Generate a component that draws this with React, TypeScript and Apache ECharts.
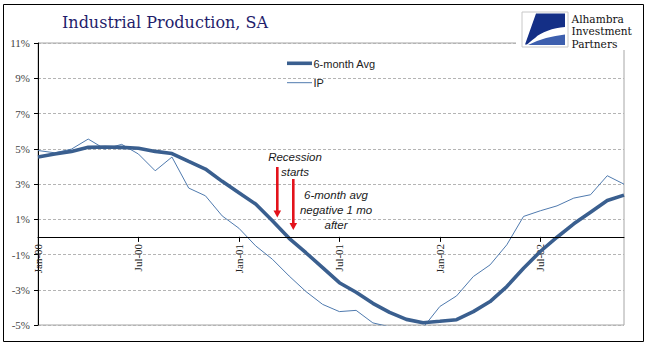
import React, { useEffect, useRef } from "react";
import * as echarts from "echarts";

const months: string[] = [
  "Jan-00", "Feb-00", "Mar-00", "Apr-00", "May-00", "Jun-00", "Jul-00", "Aug-00", "Sep-00", "Oct-00", "Nov-00", "Dec-00",
  "Jan-01", "Feb-01", "Mar-01", "Apr-01", "May-01", "Jun-01", "Jul-01", "Aug-01", "Sep-01", "Oct-01", "Nov-01", "Dec-01",
  "Jan-02", "Feb-02", "Mar-02", "Apr-02", "May-02", "Jun-02", "Jul-02", "Aug-02", "Sep-02", "Oct-02", "Nov-02", "Dec-02",
];

const avg6: number[] = [
  4.53, 4.7, 4.85, 5.08, 5.1, 5.08, 5.03, 4.85, 4.73, 4.28, 3.85, 3.15,
  2.5, 1.86, 0.92, -0.08, -0.9, -1.74, -2.6, -3.14, -3.77, -4.28, -4.68, -4.87,
  -4.79, -4.7, -4.24, -3.67, -2.82, -1.78, -0.83, -0.02, 0.74, 1.4, 2.06, 2.37,
];

const ip: number[] = [
  4.9, 4.77, 4.98, 5.55, 4.98, 5.25, 4.7, 3.75, 4.53, 2.77, 2.33, 1.19,
  0.49, -0.51, -1.27, -2.22, -3.1, -3.83, -4.24, -4.17, -4.88, -5.1, -5.3, -5.15,
  -3.95, -3.35, -2.25, -1.59, -0.45, 1.16, 1.48, 1.76, 2.2, 2.39, 3.47, 2.99,
];

const yTicks: number[] = [-5, -3, -1, 1, 3, 5, 7, 9, 11];
const yMin = -5;
const yMax = 11;

const seriesNames = ["6-month Avg", "IP"];
const titleText = "Industrial Production, SA";
const logoLines = ["Alhambra", "Investment", "Partners"];
const noteRecession = ["Recession", "starts"];
const noteAvg = ["6-month avg", "negative 1 mo", "after"];

echarts.graphic.registerShape(
  "logoBlade",
  echarts.graphic.extendPath("M536 13.5 L565 13.5 L565 27 C553 28 541 32 535 38 C531 41 529 43 527 44.5 L525 44.5 Z", {})
);
echarts.graphic.registerShape(
  "logoSwoosh",
  echarts.graphic.extendPath("M565 34.5 L565 45 L528 45 C540 39 552 36 565 34.5 Z", {})
);

export default function App() {
  const ref = useRef<HTMLDivElement>(null);
  useEffect(() => {
    if (!ref.current) return;
    const chart = echarts.init(ref.current, null, { renderer: "svg" });
    const serif = "'Liberation Serif', 'Times New Roman', serif";
    const sans = "'Liberation Sans', Arial, sans-serif";
    const red = "#e3121b";
    const thick = "#3a5f8f";
    const thin = "#4f7aae";
    const H = 358;
    const gTop = 43;
    const gBottom = 33;
    // zero line position from the main grid's value scale
    const zeroFromTop = gTop + ((yMax - 0) / (yMax - yMin)) * (H - gTop - gBottom);
    const arrow = (x: number, y0: number, y1: number) => [
      { type: "line", shape: { x1: x, y1: y0, x2: x, y2: y1 - 6 }, style: { stroke: red, lineWidth: 2.6 }, z: 50 },
      { type: "polygon", shape: { points: [[x - 3.8, y1 - 7], [x + 3.8, y1 - 7], [x, y1]] }, style: { fill: red }, z: 50 },
    ];
    chart.setOption({
      animation: false,
      grid: [
        { left: 38, right: 46, top: gTop, bottom: gBottom, show: true, borderColor: "#a6a6a6", borderWidth: 1 },
        { left: 38, right: 46, top: gTop, bottom: H - zeroFromTop, show: false },
      ],
      xAxis: [
        {
          type: "category",
          gridIndex: 0,
          data: months,
          boundaryGap: false,
          axisLine: { onZero: true, lineStyle: { color: "#000", width: 1 } },
          axisTick: { show: false },
          axisLabel: { show: false },
          splitLine: { show: false },
          z: 4,
        },
        {
          type: "category",
          gridIndex: 1,
          data: months,
          boundaryGap: false,
          axisLine: { show: false },
          axisTick: { show: true, interval: 5, length: 5, lineStyle: { color: "#000" } },
          axisLabel: { interval: 5, rotate: 90, margin: 7, fontFamily: serif, fontSize: 11, color: "#222" },
          splitLine: { show: false },
        },
      ],
      yAxis: [
        {
          type: "value",
          gridIndex: 0,
          min: yMin,
          max: yMax,
          interval: 1,
          axisLine: { show: true, onZero: false, lineStyle: { color: "#000", width: 1 } },
          axisTick: { show: true, length: 4, customValues: yTicks, lineStyle: { color: "#000" } },
          axisLabel: {
            customValues: yTicks,
            margin: 8,
            fontFamily: serif,
            fontSize: 11,
            color: "#444",
            formatter: (v: number) => (Math.abs(v) % 2 === 1 ? v + "%" : ""),
          },
          splitLine: { show: true, lineStyle: { color: "#b4b4b4", type: [3, 2], width: 1 } },
        },
        { type: "value", gridIndex: 1, min: 0, max: 1, show: false },
      ],
      series: [
        {
          name: seriesNames[0],
          type: "line",
          data: avg6,
          symbol: "none",
          lineStyle: { color: thick, width: 3.6 },
          itemStyle: { color: thick },
          z: 3,
        },
        {
          name: seriesNames[1],
          type: "line",
          data: ip,
          symbol: "none",
          lineStyle: { color: thin, width: 1 },
          itemStyle: { color: thin },
          z: 2,
        },
      ],
      graphic: [
        { type: "rect", shape: { x: 3.5, y: 4.5, width: 640, height: 337 }, style: { fill: "none", stroke: "#000", lineWidth: 1 }, z: 60 },
        { type: "text", x: 62, y: 22.5, style: { text: titleText, fontFamily: "'DejaVu Serif', serif", fontSize: 16, fill: "#1f1d6b", verticalAlign: "middle" }, z: 60 },
        // legend
        { type: "line", shape: { x1: 287, y1: 63.3, x2: 312, y2: 63.3 }, style: { stroke: thick, lineWidth: 3.6 }, z: 40 },
        { type: "text", x: 313.5, y: 63.5, style: { text: seriesNames[0], fontFamily: sans, fontSize: 11, fill: "#222", verticalAlign: "middle" }, z: 40 },
        { type: "line", shape: { x1: 287, y1: 82.7, x2: 312, y2: 82.7 }, style: { stroke: thin, lineWidth: 1 }, z: 40 },
        { type: "text", x: 313.5, y: 83, style: { text: seriesNames[1], fontFamily: sans, fontSize: 11, fill: "#222", verticalAlign: "middle" }, z: 40 },
        // logo
        { type: "rect", shape: { x: 516, y: 6, width: 126, height: 44 }, style: { fill: "#fff" }, z: 55 },
        { type: "rect", shape: { x: 522, y: 12, width: 46, height: 35 }, style: { fill: "#fff", stroke: "#c8c8c8", lineWidth: 1 }, z: 56 },
        { type: "logoBlade", style: { fill: "#142f86" }, z: 57 },
        { type: "logoSwoosh", style: { fill: "#3d5fae" }, z: 57 },
        ...logoLines.map((t, i) => ({
          type: "text",
          x: 571.5,
          y: 18.6 + i * 12.5,
          style: { text: t, fontFamily: "'DejaVu Serif', serif", fontSize: 10.6, fill: "#111", verticalAlign: "middle" },
          z: 58,
        })),
        // annotations
        ...noteRecession.map((t, i) => ({
          type: "text",
          x: 295,
          y: 157 + i * 15,
          style: { text: t, fontFamily: sans, fontStyle: "italic", fontSize: 11.5, fill: "#1a1a1a", align: "center", verticalAlign: "middle" },
          z: 50,
        })),
        ...noteAvg.map((t, i) => ({
          type: "text",
          x: 336,
          y: 195 + i * 15,
          style: { text: t, fontFamily: sans, fontStyle: "italic", fontSize: 11.5, fill: "#1a1a1a", align: "center", verticalAlign: "middle" },
          z: 50,
        })),
        ...arrow(277.3, 167, 217.5),
        ...arrow(293.3, 179, 230),
      ],
    });
    return () => chart.dispose();
  }, []);
  return <div ref={ref} style={{ position: "fixed", left: 0, top: 0, width: 670, height: 358, background: "#fff" }} />;
}
